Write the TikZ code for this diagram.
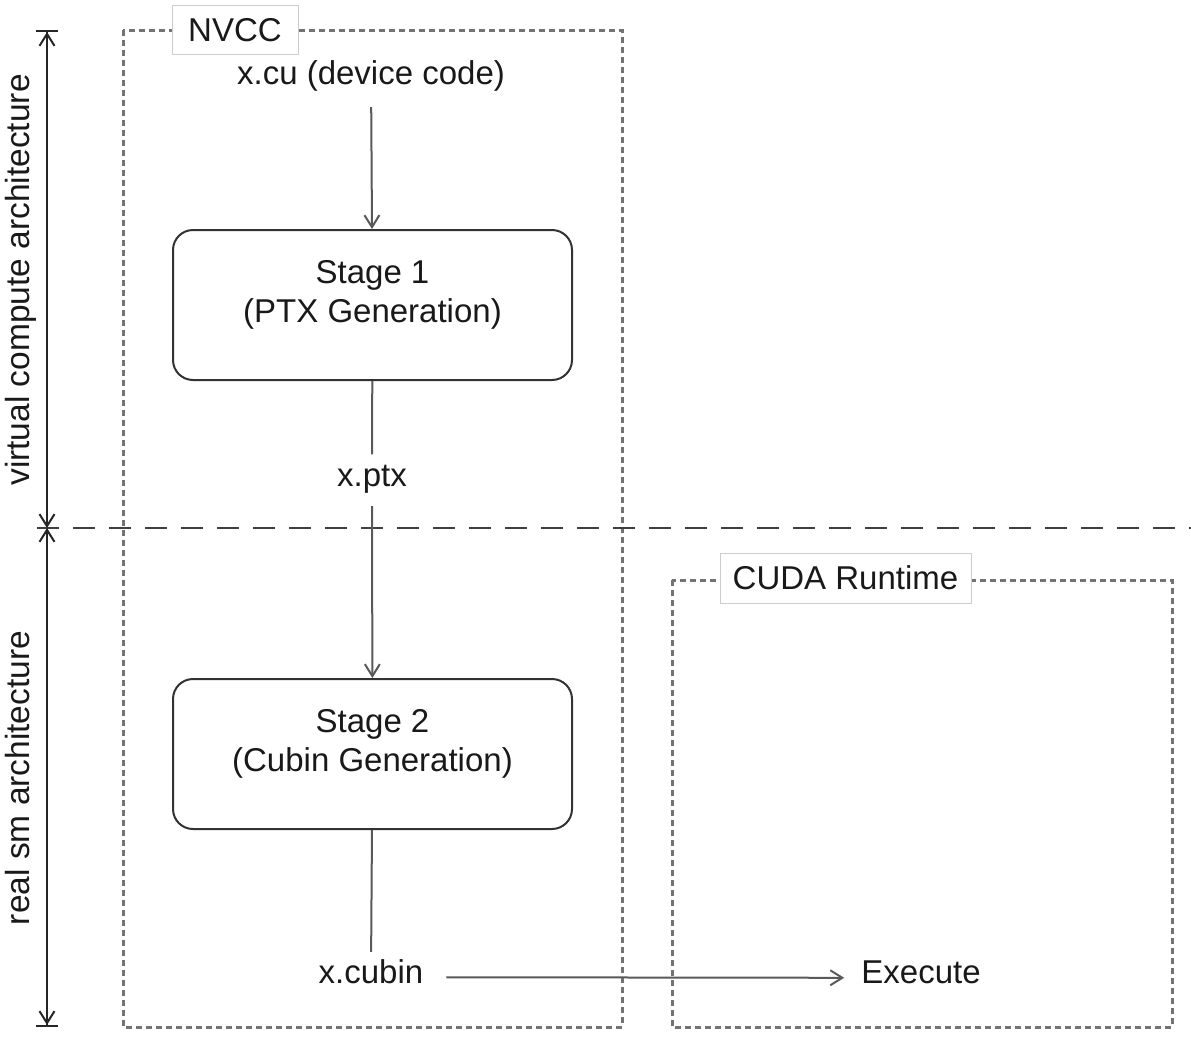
\documentclass[tikz,border=0pt]{standalone}
\usepackage{fontspec}
\setmainfont{Liberation Sans}
\usetikzlibrary{arrows.meta}
\begin{document}
\begin{tikzpicture}[x=1pt,y=-1pt,
  txt/.style={inner sep=0pt, text=black!90, font=\fontsize{33}{38.5}\selectfont},
  sidetxt/.style={inner sep=0pt, text=black!90, font=\fontsize{33.5}{39}\selectfont, rotate=90, anchor=base},
  stagebox/.style={draw=black!80, line width=2pt, rounded corners=20pt, minimum width=399pt, minimum height=150pt, inner sep=0pt},
  groupbox/.style={draw=black!55, line width=3pt, dash pattern=on 6pt off 4pt},
  grouplabel/.style={draw=black!20, line width=1pt, fill=white, inner sep=0pt, text=black!90, font=\fontsize{33}{38.5}\selectfont},
  conn/.style={draw=black!65, line width=2pt},
  connarrow/.style={conn, -{Straight Barb[length=12pt,width=15pt]}},
  dimline/.style={draw=black!85, line width=2pt},
  dimtop/.style={dimline, {Bar[width=22pt]Straight Barb[length=12pt,width=15pt]}-{Straight Barb[length=12pt,width=15pt]}},
  dimbot/.style={dimline, {Straight Barb[length=12pt,width=15pt]}-{Straight Barb[length=12pt,width=15pt]Bar[width=22pt]}},
  divider/.style={draw=black!75, line width=2.5pt, dash pattern=on 22pt off 14pt}
]
\useasboundingbox (0,0) rectangle (1191,1036);

% group boxes
\draw[groupbox] (123,30) rectangle (622,1027);
\draw[groupbox] (672,580) rectangle (1172,1027);

% divider
\coordinate (divl) at (37,528);
\coordinate (divr) at (1191,528);
\draw[divider] (divl) -- (divr);

% dimension arrows
\coordinate (vt) at (47,30);
\coordinate (vm) at (47,528);
\coordinate (vb) at (47,1027);
\draw[dimtop] (vt) -- (vm);
\draw[dimbot] (vm) -- (vb);

\node[sidetxt] (virt) at (29,280) {virtual compute architecture};
\node[sidetxt] (real) at (29,778) {real sm architecture};

% group labels
\node[grouplabel, minimum width=126pt, minimum height=49pt] (nvcc) at (235,30) {NVCC};
\node[grouplabel, minimum width=251pt, minimum height=50pt] (cuda) at (845.5,578) {CUDA Runtime};

% flow
\node[txt, anchor=base] (xcu) at (371,84) {x.cu (device code)};
\node[stagebox] (stage1) at (372.5,305) {};
\node[txt, align=center] (stage1txt) at (372.5,295) {Stage 1\\(PTX Generation)};
\node[txt, anchor=base] (xptx) at (372,486) {x.ptx};
\node[stagebox] (stage2) at (372.5,754) {};
\node[txt, align=center] (stage2txt) at (372.5,744) {Stage 2\\(Cubin Generation)};
\node[txt, anchor=base] (xcubin) at (371,983) {x.cubin};
\node[txt, anchor=base] (exec) at (921,983) {Execute};

\draw[connarrow, shorten <=16pt] (xcu) -- (stage1);
\draw[conn, shorten >=10pt] (stage1) -- (xptx);
\draw[connarrow, shorten <=13pt] (xptx) -- (stage2);
\draw[conn, shorten >=7pt] (stage2) -- (xcubin);
\draw[connarrow, shorten <=23pt, shorten >=17pt] ([yshift=-6pt]xcubin.east) -- ([yshift=-6pt]exec.west);
\end{tikzpicture}
\end{document}
